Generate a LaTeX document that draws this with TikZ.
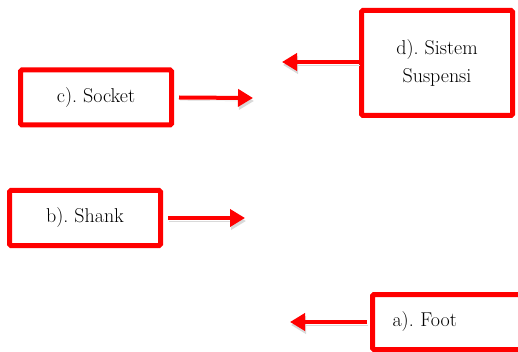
\documentclass[tikz,border=0pt]{standalone}
\usepackage{fontspec}
\usepackage{tikz}
\usetikzlibrary{positioning, arrows.meta}
\frenchspacing
\tikzset{
	redbox/.style={draw=red, line width=5pt, rounded corners=1.5pt, fill=white,
		minimum width=151pt, minimum height=55pt, align=center,
		font=\fontsize{20}{28}\selectfont}
}
\tikzset{
	redarrow/.style={draw=red, line width=4pt, -{Triangle[length=15pt,width=17pt]},
		preaction={draw=gray!30, transform canvas={shift={(1pt,-3pt)}}}}
}

\begin{document}
\begin{tikzpicture}[x=1pt, y=-1pt]
      \useasboundingbox (0,0) rectangle (518,352);
      \node[redbox] (socket) at (96,97.5) {c). Socket};
      \node[redbox, minimum height=105pt] (suspensi) at (437,63) {d). Sistem\\Suspensi};
      \node[redbox] (shank) at (85,218) {b). Shank};
      \node[redbox, text width=111pt, inner xsep=20pt, align=left] (foot) at (448,322) {a). Foot};
      \coordinate (socketend) at (253,98);
      \coordinate (suspensiend) at (282,62);
      \coordinate (shankend) at (245,218);
      \coordinate (footend) at (290,322);
      \draw[redarrow] ([xshift=5pt]socket.east) -- (socketend);
      \draw[redarrow] (suspensi.west |- suspensiend) -- (suspensiend);
      \draw[redarrow] ([xshift=5pt]shank.east) -- (shankend);
      \draw[redarrow] ([xshift=-3pt]foot.west) -- (footend);
    \end{tikzpicture}
\end{document}
